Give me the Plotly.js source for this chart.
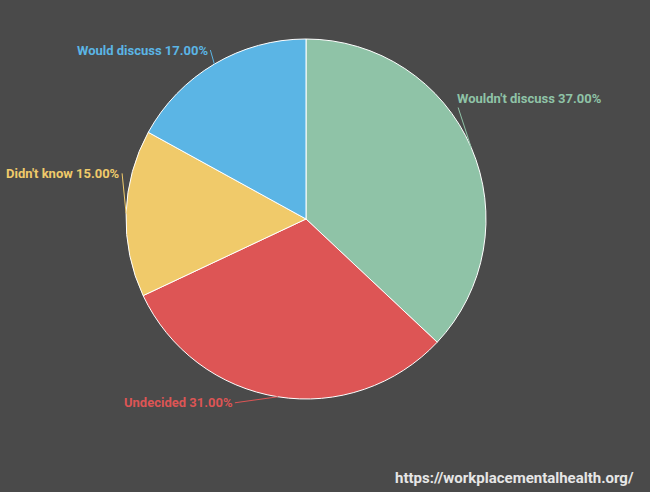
<!DOCTYPE html>
<html>
<head>
<meta charset="utf-8">
<script src="https://cdn.plot.ly/plotly-3.0.1.min.js"></script>
<style>html,body{margin:0;padding:0;background:#4a4a4a;}#chart{width:650px;height:492px;}</style>
</head>
<body>
<div id="chart"></div>
<script>
var categories = ["Wouldn't discuss", "Undecided", "Didn't know", "Would discuss"];
var values = [37, 31, 15, 17];
var colors = ["#8fc3a7", "#dd5555", "#f0ca6a", "#5bb5e5"];
// label text offsets (pixels) relative to slice edge midpoint
var labelOffsets = [[-16, -49, 'left'], [-43, 6, 'right'], [-4, -40, 'right'], [-4, -14, 'right']];

var total = values.reduce(function(a, b){ return a + b; }, 0);
var annotations = [];
var cum = 0;
for (var i = 0; i < values.length; i++) {
  var mid = (cum + values[i] / 2) / total * 2 * Math.PI;
  cum += values[i];
  var px = 0.5 + 0.5 * Math.sin(mid);
  var py = 0.5 + 0.5 * Math.cos(mid);
  annotations.push({
    xref: 'paper', yref: 'paper', x: px, y: py,
    text: categories[i] + ' ' + (values[i] / total * 100).toFixed(2) + '%',
    showarrow: true, arrowhead: 0, arrowwidth: 1, arrowcolor: colors[i],
    ax: labelOffsets[i][0], ay: labelOffsets[i][1],
    xanchor: labelOffsets[i][2], yanchor: 'middle',
    font: {family: 'Roboto', size: 13, color: colors[i], weight: 'bold'}
  });
}
annotations.push({
  xref: 'paper', yref: 'paper', x: 1, y: 0, xshift: 150, yshift: -79,
  xanchor: 'right', yanchor: 'middle', showarrow: false,
  text: 'https://workplacementalhealth.org/',
  font: {family: 'Roboto', size: 15, color: '#e6e6e6', weight: 'bold'}
});

var data = [{
  type: 'pie',
  labels: categories,
  values: values,
  sort: false,
  direction: 'clockwise',
  rotation: 0,
  textinfo: 'none',
  hoverinfo: 'label+percent',
  marker: {colors: colors, line: {color: '#ffffff', width: 1}},
  showlegend: false
}];

var layout = {
  width: 650, height: 492,
  paper_bgcolor: '#4a4a4a', plot_bgcolor: '#4a4a4a',
  margin: {l: 126, r: 164, t: 39, b: 93},
  showlegend: false,
  annotations: annotations
};

Plotly.newPlot('chart', data, layout, {displayModeBar: false});
</script>
</body>
</html>
